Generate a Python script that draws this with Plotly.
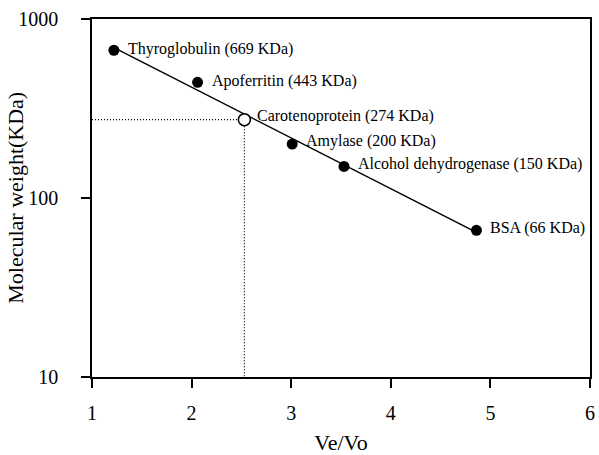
import numpy as np
import plotly.graph_objects as go

# Calibration standards (elution volume ratio vs. molecular weight)
std_names = ["Thyroglobulin", "Apoferritin", "Amylase", "Alcohol dehydrogenase", "BSA"]
std_vevo = [1.22, 2.06, 3.01, 3.53, 4.86]
std_mw = [669, 443, 200, 150, 66]

# Sample
sample_name = "Carotenoprotein"
sample_vevo = 2.53
sample_mw = 274

x_ticks = [1, 2, 3, 4, 5, 6]
y_ticks = [10, 100, 1000]

FONT = "Liberation Serif, Times New Roman, serif"
W, H = 599, 455
ML, MR, MT, MB = 92, 4, 19, 71

# Least-squares fit of log10(MW) against Ve/Vo
slope, intercept = np.polyfit(std_vevo, np.log10(std_mw), 1)
fit_x = np.array([min(std_vevo), max(std_vevo)])
fit_y = 10 ** (intercept + slope * fit_x)

fig = go.Figure()

# Dotted guide lines to the sample point
fig.add_trace(go.Scatter(
    x=[x_ticks[0], sample_vevo, sample_vevo], y=[sample_mw, sample_mw, y_ticks[0]],
    mode="lines", line=dict(color="black", width=1.2, dash="1px,2px"),
    hoverinfo="skip", showlegend=False))

# Calibration line
fig.add_trace(go.Scatter(
    x=fit_x, y=fit_y, mode="lines",
    line=dict(color="black", width=1.5), showlegend=False))

# Standards
fig.add_trace(go.Scatter(
    x=std_vevo, y=std_mw, mode="markers",
    marker=dict(color="black", size=11), showlegend=False))

# Sample (open circle)
fig.add_trace(go.Scatter(
    x=[sample_vevo], y=[sample_mw], mode="markers",
    marker=dict(color="white", size=12, line=dict(color="black", width=1.5)),
    showlegend=False))

label_yshift = [1, 1, 3, 2, 2]
annotations = []
for n, xv, yv, ys in zip(std_names, std_vevo, std_mw, label_yshift):
    annotations.append(dict(
        x=xv, y=np.log10(yv), xref="x", yref="y",
        text=f"{n} ({yv} KDa)", showarrow=False,
        xanchor="left", yanchor="middle", xshift=12, yshift=ys,
        font=dict(family=FONT, size=16, color="black")))
annotations.append(dict(
    x=sample_vevo, y=np.log10(sample_mw), xref="x", yref="y",
    text=f"{sample_name} ({sample_mw} KDa)", showarrow=False,
    xanchor="left", yanchor="middle", xshift=11, yshift=4,
    font=dict(family=FONT, size=16, color="black")))

# Y-axis title, placed in paper coordinates
plot_w = W - ML - MR
annotations.append(dict(
    x=(14 - ML) / plot_w, y=0.5, xref="paper", yref="paper",
    text="Molecular weight(KDa)", textangle=-90, showarrow=False,
    xanchor="center", yanchor="middle",
    font=dict(family=FONT, size=22, color="black")))

fig.update_layout(
    width=W, height=H,
    margin=dict(l=ML, r=MR, t=MT, b=MB),
    paper_bgcolor="white", plot_bgcolor="white",
    font=dict(family=FONT, color="black"),
    annotations=annotations,
    showlegend=False,
)

fig.update_xaxes(
    range=[1, 6], tickvals=x_ticks, ticktext=[str(v) for v in x_ticks],
    ticks="outside", ticklen=9, tickwidth=1.5, tickcolor="black",
    ticklabelstandoff=8,
    showline=True, linecolor="black", linewidth=1.5, mirror=True,
    showgrid=False, zeroline=False,
    tickfont=dict(family=FONT, size=20),
    title=dict(text="Ve/Vo", font=dict(family=FONT, size=22), standoff=12),
)
fig.update_yaxes(
    type="log", range=[1, 3], tickvals=y_ticks, ticktext=[str(v) for v in y_ticks],
    ticks="outside", ticklen=9, tickwidth=1.5, tickcolor="black",
    ticklabelstandoff=19,
    showline=True, linecolor="black", linewidth=1.5, mirror=True,
    showgrid=False, zeroline=False,
    tickfont=dict(family=FONT, size=20),
)

fig.write_html("out.html")
